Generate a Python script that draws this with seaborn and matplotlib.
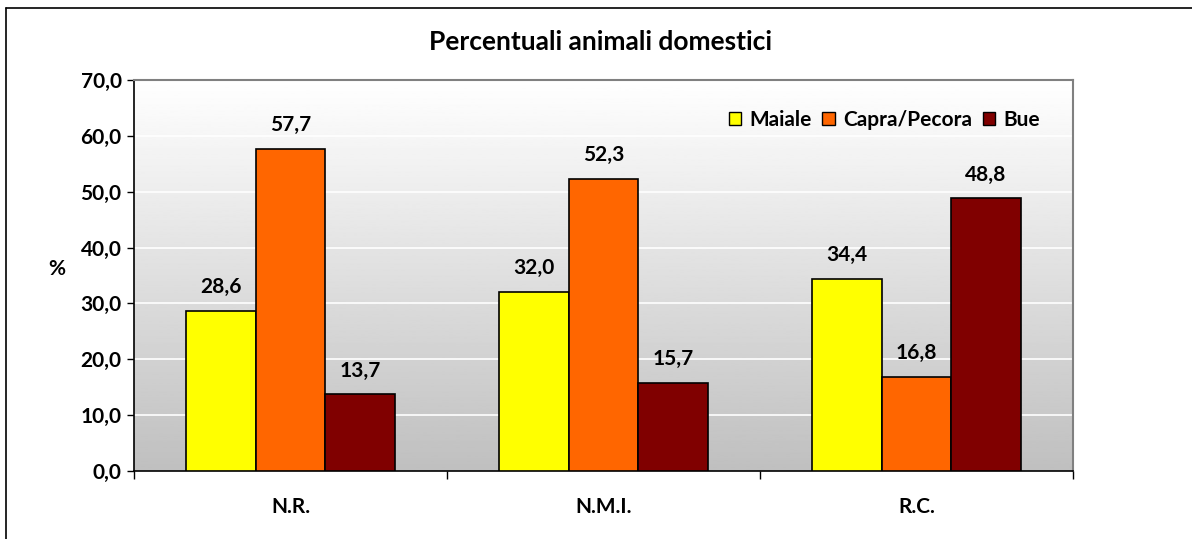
import numpy as np
import pandas as pd
import matplotlib
matplotlib.use("Agg")
import matplotlib.pyplot as plt
import seaborn as sns
from matplotlib.lines import Line2D
from matplotlib.patches import Patch

categories = ["N.R.", "N.M.I.", "R.C."]
series = ["Maiale", "Capra/Pecora", "Bue"]
maiale = [28.6, 32.0, 34.4]
capra = [57.7, 52.3, 16.8]
bue = [13.7, 15.7, 48.8]
colors = ["#FFFF00", "#FF6600", "#800000"]
yticks = [0, 10, 20, 30, 40, 50, 60, 70]

rows = []
for s, vals in zip(series, [maiale, capra, bue]):
    for c, v in zip(categories, vals):
        rows.append({"cat": c, "serie": s, "val": v})
df = pd.DataFrame(rows)

sns.set_style("white")
plt.rcParams["font.family"] = ["Lato", "DejaVu Sans"]
plt.rcParams["font.weight"] = "bold"
plt.rcParams["text.color"] = "black"
plt.rcParams["axes.labelcolor"] = "black"
plt.rcParams["xtick.color"] = "black"
plt.rcParams["ytick.color"] = "black"
FS = 15

fig = plt.figure(figsize=(11.92, 5.39), dpi=100)
W, H = 1192, 539
ax = fig.add_axes([134 / W, 1 - 471 / H, (1073 - 134) / W, (471 - 80) / H])

# gradient background
grad = np.linspace(1.0, 0.75, 256).reshape(-1, 1)
ax.imshow(grad, cmap="gray", vmin=0, vmax=1, aspect="auto",
          extent=[0, 1, 0, 1], transform=ax.transAxes, zorder=0)

sns.barplot(data=df, x="cat", y="val", hue="serie", hue_order=series,
            order=categories, palette=colors, width=0.667,
            edgecolor="black", linewidth=1.2, saturation=1, ax=ax, zorder=3,
            legend=False)

ax.set_xlim(-0.5, 2.5)
ax.set_ylim(0, 70)
ax.set_yticks(yticks)
ax.set_yticklabels([f"{t:.1f}".replace(".", ",") for t in yticks])
for t in yticks[1:-1]:
    ax.axhline(t, color="white", lw=1.2, zorder=1)

for cont in ax.containers:
    for bar in cont:
        h = bar.get_height()
        ax.annotate(f"{h:.1f}".replace(".", ","),
                    (bar.get_x() + bar.get_width() / 2, h),
                    xytext=(0, 10), textcoords="offset points",
                    ha="center", va="bottom", fontsize=FS, fontweight="bold",
                    color="black")

ax.set_xlabel("")
ax.set_ylabel("%", rotation=0, fontsize=FS, fontweight="bold", labelpad=0)
ax.yaxis.set_label_coords(-0.082, 0.49)
ax.tick_params(axis="y", which="both", left=True, length=5, width=1,
               labelsize=FS, pad=4, color="black", labelcolor="black")
ax.tick_params(axis="x", bottom=False, labelsize=FS, pad=15, labelcolor="black")
ax.set_xticks(range(len(categories)))
ax.set_xticklabels(categories, fontweight="bold")
ax.set_xticks([-0.5, 0.5, 1.5, 2.5], minor=True)
ax.tick_params(axis="x", which="minor", bottom=True, length=6, width=1, color="black")
for lab in ax.get_yticklabels():
    lab.set_fontweight("bold")

for side in ["top", "right"]:
    ax.spines[side].set_visible(True)
    ax.spines[side].set_color("#808080")
    ax.spines[side].set_linewidth(1.5)
for side in ["left", "bottom"]:
    ax.spines[side].set_visible(True)
    ax.spines[side].set_color("black")
    ax.spines[side].set_linewidth(1.2)

handles = [Patch(facecolor=c, edgecolor="black", label=s) for s, c in zip(series, colors)]
leg = ax.legend(handles=handles, loc="upper right", ncol=3, frameon=False,
                bbox_to_anchor=(0.985, 0.972), fontsize=FS, handlelength=0.6,
                handleheight=0.6, handletextpad=0.4, columnspacing=0.5)
for t in leg.get_texts():
    t.set_fontweight("bold")
    t.set_color("black")

fig.text(600 / W, 1 - 42 / H, "Percentuali animali domestici", ha="center",
         va="center", fontsize=19, fontweight="bold", color="black")

# outer border lines (left and top)
fig.add_artist(Line2D([6 / W, 6 / W], [0, 1 - 8 / H], transform=fig.transFigure,
                      color="black", lw=1.2))
fig.add_artist(Line2D([6 / W, 1], [1 - 8 / H, 1 - 8 / H], transform=fig.transFigure,
                      color="black", lw=1.2))

fig.savefig("out.png", dpi=100)
